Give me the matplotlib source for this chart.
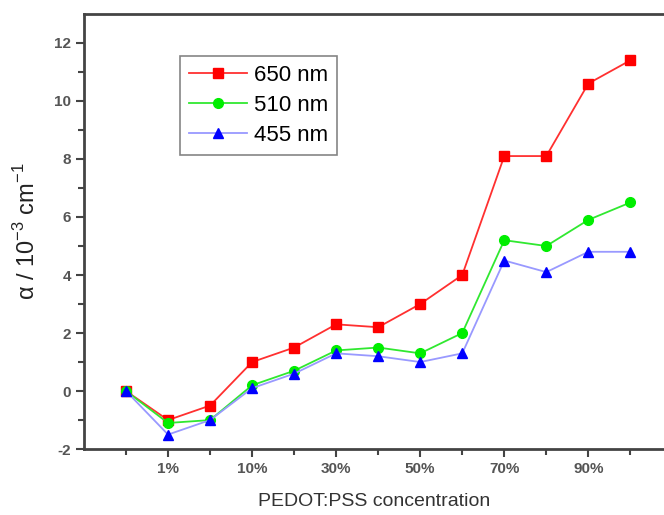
import matplotlib.pyplot as plt
import numpy as np

plt.rcParams["font.family"] = ["Liberation Sans", "DejaVu Sans"]
plt.rcParams["axes.unicode_minus"] = False
plt.rcParams["mathtext.fontset"] = "custom"
plt.rcParams["mathtext.rm"] = "Liberation Sans"

categories = ["0%", "1%", "5%", "10%", "20%", "30%", "40%", "50%",
              "60%", "70%", "80%", "90%", "100%"]
shown_labels = ["1%", "10%", "30%", "50%", "70%", "90%"]
a650 = [0, -1.0, -0.5, 1.0, 1.5, 2.3, 2.2, 3.0, 4.0, 8.1, 8.1, 10.6, 11.4]
a510 = [0, -1.1, -1.0, 0.2, 0.7, 1.4, 1.5, 1.3, 2.0, 5.2, 5.0, 5.9, 6.5]
a455 = [0, -1.5, -1.0, 0.1, 0.6, 1.3, 1.2, 1.0, 1.3, 4.5, 4.1, 4.8, 4.8]

x = np.arange(len(categories))

fig = plt.figure(figsize=(6.64, 5.15), dpi=100)
ax = fig.add_axes([0.1265, 0.128, 0.8735, 0.845])

ax.plot(x, a650, color="#ff3030", lw=1.3, marker="s", ms=6.5,
        mfc="#ff0000", mec="#ff0000", label="650 nm")
ax.plot(x, a510, color="#30e830", lw=1.3, marker="o", ms=7,
        mfc="#00ee00", mec="#00ee00", label="510 nm")
ax.plot(x, a455, color="#9999ff", lw=1.3, marker="^", ms=7.5,
        mfc="#0000ff", mec="#0000ff", label="455 nm")

ax.set_xlim(-1, 12.8)
ax.set_ylim(-2, 13)
ax.set_xticks(x[1::2])
ax.set_xticklabels(shown_labels)
ax.set_xticks(x[0::2], minor=True)
ax.set_yticks(np.arange(-2, 13, 2))
ax.set_yticks(np.arange(-1, 13, 2), minor=True)

ax.tick_params(axis="both", which="major", direction="out", length=6,
               width=1.5, colors="#444444", labelsize=11, labelcolor="#555555")
ax.tick_params(axis="both", which="minor", direction="out", length=4,
               width=1.5, colors="#444444")
for lbl in ax.get_xticklabels() + ax.get_yticklabels():
    lbl.set_fontweight("bold")

for side in ["left", "bottom", "top"]:
    ax.spines[side].set_linewidth(2)
    ax.spines[side].set_color("#444444")
ax.spines["right"].set_visible(False)

ax.set_xlabel("PEDOT:PSS concentration", fontsize=14, color="#333333",
              labelpad=12)
ax.set_ylabel("α / 10$^{-3}$ cm$^{-1}$", fontsize=17, color="#222222",
              labelpad=10)

leg = ax.legend(loc="upper left", bbox_to_anchor=(0.166, 0.903), fontsize=16,
                frameon=True, fancybox=False, edgecolor="#666666",
                handlelength=2.6, handletextpad=0.3, borderpad=0.4,
                labelspacing=0.4, borderaxespad=0)
leg.get_frame().set_linewidth(1.2)

fig.savefig("out.png", dpi=100)
